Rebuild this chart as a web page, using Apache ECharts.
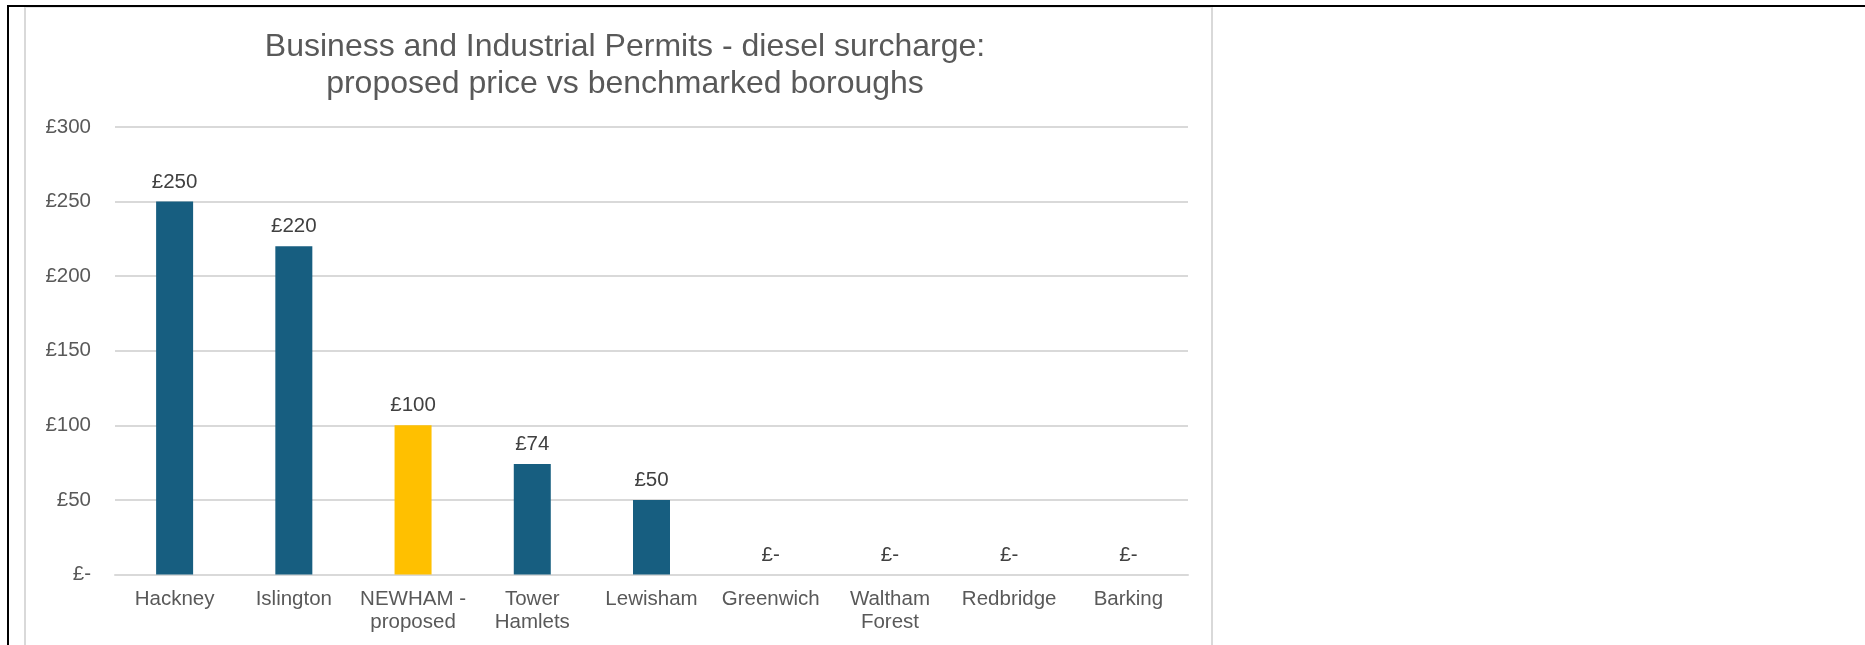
<!DOCTYPE html>
<html>
<head>
<meta charset="utf-8">
<script src="https://cdn.jsdelivr.net/npm/echarts@6/dist/echarts.min.js"></script>
<style>
  html, body { margin: 0; padding: 0; background: #fff; }
  #wrap { position: relative; width: 1865px; height: 645px; overflow: hidden; background: #fff; }
  #blackTop { position: absolute; left: 7px; top: 5px; width: 1858px; height: 2px; background: #000; }
  #blackLeft { position: absolute; left: 7px; top: 5px; width: 2px; height: 640px; background: #000; }
  #box { position: absolute; left: 24px; top: 7px; width: 1189px; height: 660px; border: 2px solid #d9d9d9; border-top: 1px solid #e6e6e6; box-sizing: border-box; }
  #chart { position: absolute; left: 0; top: 0; width: 1865px; height: 645px; }
</style>
</head>
<body>
<div id="wrap">
  <div id="box"></div>
  <div id="blackTop"></div>
  <div id="blackLeft"></div>
  <div id="chart"></div>
</div>
<script>
const titleLines = ["Business and Industrial Permits - diesel surcharge:", "proposed price vs benchmarked boroughs"];
const categories = ["Hackney", "Islington", "NEWHAM -\nproposed", "Tower\nHamlets", "Lewisham", "Greenwich", "Waltham\nForest", "Redbridge", "Barking"];
const prices = [250, 220, 100, 74, 50, 0, 0, 0, 0];
const highlightCategory = "NEWHAM -\nproposed";
const yTicks = [0, 50, 100, 150, 200, 250, 300];

const BAR = "#175E80";
const HIGHLIGHT = "#FFC000";
const fmt = v => (v === 0 ? "£-" : "£" + v);

const chart = echarts.init(document.getElementById("chart"), null, { renderer: "canvas" });
chart.setOption({
  backgroundColor: "transparent",
  animation: false,
  title: {
    text: titleLines.join("\n"),
    left: 620,
    textAlign: "center",
    top: 24,
    textStyle: { fontFamily: "Liberation Sans, Arial", fontSize: 32, fontWeight: "normal", color: "#595959", lineHeight: 37 }
  },
  grid: { left: 115, right: 677, top: 127, bottom: 70.5, containLabel: false },
  xAxis: {
    type: "category",
    data: categories,
    axisLine: { show: true, lineStyle: { color: "#d9d9d9", width: 2 } },
    axisTick: { show: false },
    axisLabel: { fontFamily: "Liberation Sans, Arial", fontSize: 20.5, color: "#595959", margin: 13, lineHeight: 23, interval: 0 }
  },
  yAxis: {
    type: "value",
    min: yTicks[0],
    max: yTicks[yTicks.length - 1],
    interval: 50,
    axisLine: { show: false },
    axisTick: { show: false },
    splitLine: { lineStyle: { color: "#d9d9d9", width: 2 } },
    axisLabel: { fontFamily: "Liberation Sans, Arial", fontSize: 20.5, color: "#595959", margin: 24, formatter: fmt }
  },
  series: [{
    type: "bar",
    barWidth: 37,
    data: prices.map((v, i) => ({
      value: v,
      itemStyle: { color: categories[i] === highlightCategory ? HIGHLIGHT : BAR }
    })),
    label: {
      show: true,
      position: "top",
      distance: 9,
      fontFamily: "Liberation Sans, Arial",
      fontSize: 20.5,
      color: "#404040",
      formatter: p => fmt(p.value)
    }
  }]
});
</script>
</body>
</html>
